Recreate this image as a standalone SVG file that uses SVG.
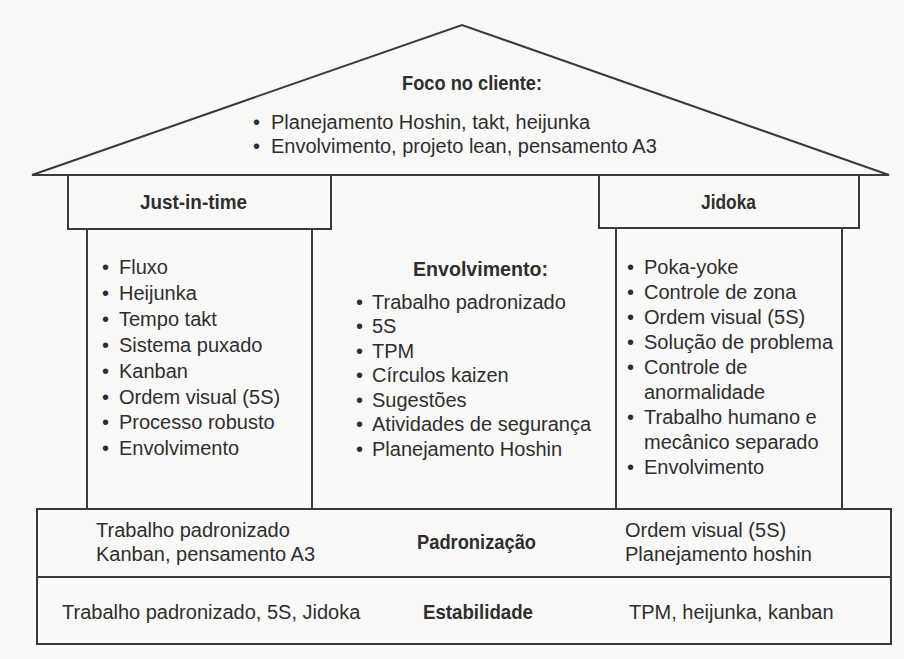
<svg xmlns="http://www.w3.org/2000/svg" width="904" height="659" viewBox="0 0 904 659">
<style>
.ln{fill:none;stroke:#3a3a3a;stroke-width:2;stroke-linejoin:miter}
text{font-family:"Liberation Sans",Arial,sans-serif;font-size:20px;fill:#2e2e2e}
.b{font-weight:bold;font-size:21px}
</style>
<rect x="0" y="0" width="904" height="659" fill="#f9f9f7"/>
<g id="roof">
<polygon class="ln" points="32,175 462,25 889,175"/>
<text class="b" x="402" y="90" textLength="140" lengthAdjust="spacingAndGlyphs">Foco no cliente:</text>
<text x="253" y="129">•</text><text x="271" y="129">Planejamento Hoshin, takt, heijunka</text>
<text x="253" y="153">•</text><text x="271" y="153">Envolvimento, projeto lean, pensamento A3</text>
</g>
<g id="just-in-time">
<rect class="ln" x="68" y="175" width="263" height="54"/>
<line class="ln" x1="87" y1="229" x2="87" y2="509"/>
<line class="ln" x1="312" y1="229" x2="312" y2="509"/>
<text class="b" x="140" y="209" textLength="107" lengthAdjust="spacingAndGlyphs">Just-in-time</text>
<text x="102" y="274">•</text><text x="119" y="274">Fluxo</text>
<text x="102" y="300">•</text><text x="119" y="300">Heijunka</text>
<text x="102" y="326">•</text><text x="119" y="326">Tempo takt</text>
<text x="102" y="352">•</text><text x="119" y="352">Sistema puxado</text>
<text x="102" y="378">•</text><text x="119" y="378">Kanban</text>
<text x="102" y="404">•</text><text x="119" y="404">Ordem visual (5S)</text>
<text x="102" y="429">•</text><text x="119" y="429">Processo robusto</text>
<text x="102" y="455">•</text><text x="119" y="455">Envolvimento</text>
</g>
<g id="envolvimento">
<text class="b" x="413" y="276" textLength="135" lengthAdjust="spacingAndGlyphs">Envolvimento:</text>
<text x="356" y="309">•</text><text x="372" y="309">Trabalho padronizado</text>
<text x="356" y="333">•</text><text x="372" y="333">5S</text>
<text x="356" y="358">•</text><text x="372" y="358">TPM</text>
<text x="356" y="382">•</text><text x="372" y="382">Círculos kaizen</text>
<text x="356" y="407">•</text><text x="372" y="407">Sugestões</text>
<text x="356" y="431">•</text><text x="372" y="431">Atividades de segurança</text>
<text x="356" y="456">•</text><text x="372" y="456">Planejamento Hoshin</text>
</g>
<g id="jidoka">
<rect class="ln" x="599" y="175" width="260" height="53"/>
<line class="ln" x1="616" y1="228" x2="616" y2="509"/>
<line class="ln" x1="842" y1="228" x2="842" y2="509"/>
<text class="b" x="701" y="209" textLength="55" lengthAdjust="spacingAndGlyphs">Jidoka</text>
<text x="627" y="274">•</text><text x="644" y="274">Poka-yoke</text>
<text x="627" y="299">•</text><text x="644" y="299">Controle de zona</text>
<text x="627" y="324">•</text><text x="644" y="324">Ordem visual (5S)</text>
<text x="627" y="349">•</text><text x="644" y="349">Solução de problema</text>
<text x="627" y="374">•</text><text x="644" y="374">Controle de</text>
<text x="644" y="399">anormalidade</text>
<text x="627" y="424">•</text><text x="644" y="424">Trabalho humano e</text>
<text x="644" y="449">mecânico separado</text>
<text x="627" y="474">•</text><text x="644" y="474">Envolvimento</text>
</g>
<g id="padronizacao">
<rect class="ln" x="37" y="509" width="854" height="68"/>
<text x="96" y="537">Trabalho padronizado</text>
<text x="96" y="561">Kanban, pensamento A3</text>
<text class="b" x="417" y="549" textLength="119" lengthAdjust="spacingAndGlyphs">Padronização</text>
<text x="625" y="537">Ordem visual (5S)</text>
<text x="625" y="561">Planejamento hoshin</text>
</g>
<g id="estabilidade">
<rect class="ln" x="37" y="577" width="854" height="67"/>
<text x="62" y="619">Trabalho padronizado, 5S, Jidoka</text>
<text class="b" x="423" y="619" textLength="110" lengthAdjust="spacingAndGlyphs">Estabilidade</text>
<text x="629" y="619">TPM, heijunka, kanban</text>
</g>
</svg>
